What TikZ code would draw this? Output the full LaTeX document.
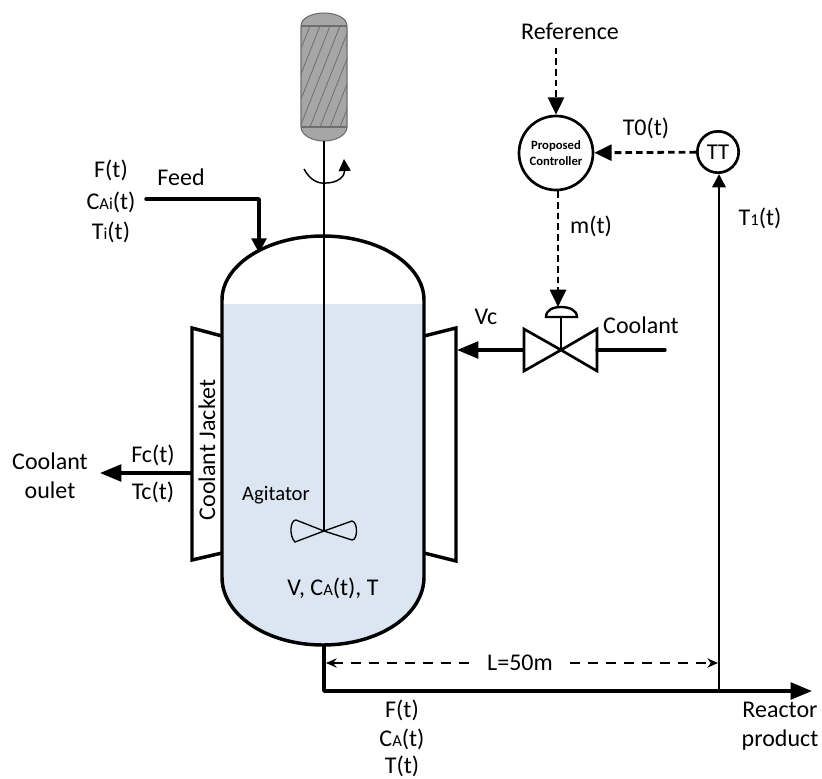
\documentclass[tikz,border=0pt]{standalone}
\usepackage{fontspec}
\setmainfont{Carlito}
\usetikzlibrary{arrows.meta}
\newcommand{\lbl}[1]{{\fontsize{12.5}{12.5}\selectfont #1}}
\definecolor{liquid}{HTML}{DCE6F2}
\definecolor{motorfill}{HTML}{A6A6A6}
\definecolor{motoredge}{HTML}{6E6E6E}
\tikzset{
	flow/.style={line width=2.6pt},
	signal/.style={line width=2.1pt,dash pattern=on 5pt off 3pt},
	txt/.style={font=\fontsize{18}{18}\selectfont,inner sep=0pt},
	instr/.style={circle,draw,line width=2pt,inner sep=0pt,align=center},
	bigtip/.style={-{Triangle[length=16pt,width=12.5pt]}},
	smalltip/.style={-{Triangle[length=10pt,width=10pt]}}
}
\begin{document}
\begin{tikzpicture}[x=0.75pt,y=-0.75pt]
	\useasboundingbox (0,0) rectangle (822,779);
	\path (222,304) coordinate (LL) (424,304) coordinate (LR) (324,531) coordinate (hub) (324,141) coordinate (shafttop)
		(192,473) coordinate (jacketout) (100,473) coordinate (outtip) (457,350) coordinate (jacketin)
		(561,350) coordinate (valve) (524,350) coordinate (valveL) (597,350) coordinate (valveR) (665,350) coordinate (coolantend)
		(146,199) coordinate (feedstart) (259,199) coordinate (feedcorner) (259,253) coordinate (feedtip)
		(324,645) coordinate (bottom) (324,691) coordinate (corner) (812,691) coordinate (prodtip) (719,691) coordinate (tap)
		(326,663) coordinate (dimL) (718,663) coordinate (dimR) (472,663) coordinate (gapL) (570,663) coordinate (gapR)
		(561,317) coordinate (stem) (558,307) coordinate (acttip);
	% liquid
	\fill[liquid] (LL)--(LR)--(424,577) .. controls (424,615) and (379,645) .. (323,645) .. controls (267,645) and (222,615) .. (222,577)--cycle;
	% vessel and jackets
	\draw[flow] (222,577) .. controls (222,615) and (267,645) .. (323,645) .. controls (379,645) and (424,615) .. (424,577)--(424,300)
		.. controls (424,265) and (379,236) .. (323,236) .. controls (267,236) and (222,265) .. (222,300)--cycle;
	\draw[flow] (222,336)--(192,328)--(192,560)--(222,553);
	\draw[flow] (424,336)--(456,328)--(456,561)--(424,553);
	% motor
	\begin{scope}
		\clip (301,26) .. controls (301,18) and (312,13) .. (324,13) .. controls (336,13) and (347,18) .. (347,26)--(347,127)
			.. controls (347,135) and (336,141) .. (324,141) .. controls (312,141) and (301,135) .. (301,127)--cycle;
		\fill[motorfill] (295,8) rectangle (353,146);
		\foreach \x in {250,260,...,350}{
			\draw[motoredge,line width=0.6pt] (\x,127)--(\x+40,26);
		}
		\fill[motorfill] (295,8) rectangle (353,26) (295,127) rectangle (353,146);
		\draw[motoredge,line width=0.8pt] (301,26)--(347,26) (301,127)--(347,127);
	\end{scope}
	\draw[motoredge,line width=0.8pt] (301,26) .. controls (301,18) and (312,13) .. (324,13) .. controls (336,13) and (347,18) .. (347,26)--(347,127)
		.. controls (347,135) and (336,141) .. (324,141) .. controls (312,141) and (301,135) .. (301,127)--cycle;
	% agitator
	\draw[line width=1.1pt] (shafttop)--(hub);
	\draw[line width=1pt] (hub)--(296,520) .. controls (290,520) and (289,536) .. (295,542)--(hub)--(352,521) .. controls (358,522) and (358,540) .. (352,540)--cycle;
	\draw[line width=1.1pt,-{Triangle[length=9pt,width=9pt]}] (304,169) .. controls (310,180) and (318,184) .. (326,183) .. controls (338,183) and (345,176) .. (344,159);
	% piping
	\draw[flow,line cap=round,line join=round,-{Triangle[length=11pt,width=11pt]}] (feedstart)--(feedcorner)--(feedtip);
	\draw[flow,bigtip] (jacketout)--(outtip);
	\draw[flow,bigtip] (valveL)--(jacketin);
	\draw[flow,line cap=round] (valveR)--(coolantend);
	\draw[flow,line join=round,bigtip] (bottom)--(corner)--(prodtip);
	% valve
	\draw[line width=2pt,line join=miter] (valve)--(524,329)--(524,371)--cycle (valve)--(597,329)--(597,371)--cycle;
	\draw[line width=2pt] (valve)--(stem);
	\draw[line width=1.8pt] (546,317) .. controls (546,310) and (553,307) .. (561,307) .. controls (569,307) and (577,310) .. (577,317)--cycle;
	% instruments
	\node[instr,minimum size=55.5pt,font=\fontsize{9.5}{11.5}\selectfont\bfseries] (ctrl) at (556,153) {Proposed\\Controller};
	\node[instr,minimum size=31pt,font=\fontsize{17}{17}\selectfont] (tt) at (718,152) {TT};
	\node[txt] (ref) at (570,31) {Reference};
	\draw[signal,-{Triangle[length=13pt,width=12pt]}] (ref.south-|ctrl.north)+(0,8) coordinate (refgo) (refgo)--(ctrl.north);
	\draw[signal,-{Triangle[length=13pt,width=12pt]}] (tt)--(ctrl);
	\draw[signal,-{Triangle[length=13pt,width=12pt]}] (ctrl.south-|acttip)--(acttip);
	\draw[flow,line width=1.9pt,smalltip] (tap)--(tap|-tt.south);
	% dimension
	\draw[line width=1pt,dash pattern=on 7.5pt off 6pt,{Stealth[length=8pt,width=7pt]}-] (dimL)--(gapL);
	\draw[line width=1pt,dash pattern=on 7.5pt off 6pt,-{Stealth[length=8pt,width=7pt]}] (gapR)--(dimR);
	\node[txt] (len) at (520,663) {L=50m};
	% labels
	\foreach \n/\p/\t in {feedF/{111,170}/F(t), feedC/{111,202}/C\lbl{Ai}(t), feedT/{111,232}/T\lbl{i}(t), feed/{181,177}/Feed,
		prodF/{402,710}/F(t), prodC/{402,739}/C\lbl{A}(t), prodT/{402,766}/T(t), reactor/{780,710}/Reactor, product/{780,740}/product,
		coolA/{50,461}/Coolant, coolB/{50,490}/oulet, fc/{153,455}/Fc(t), tc/{153,492}/Tc(t),
		vc/{486,317}/Vc, coolant/{641,325}/Coolant, mt/{591,226}/m(t), tzero/{646,128}/T0(t), tone/{760,218}/T\lbl{1}(t),
		state/{333,588}/{V, C\lbl{A}(t), T}}{
		\node[txt] (\n) at (\p) {\t};
	}
	\node[txt,font=\fontsize{15.5}{15.5}\selectfont] (agit) at (276,495) {Agitator};
	\node[txt,rotate=90] (jacket) at (207,450) {Coolant Jacket};
\end{tikzpicture}
\end{document}
